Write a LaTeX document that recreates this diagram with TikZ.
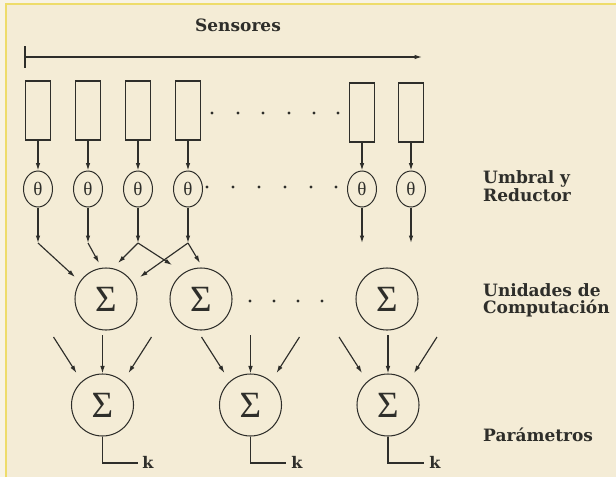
\documentclass[tikz,border=0pt]{standalone}
\usepackage{fontspec}
\setmainfont{DejaVu Serif}
\newfontfamily\symfont{Liberation Serif}
\usetikzlibrary{arrows.meta,shapes.geometric}
\definecolor{bg}{HTML}{F4ECD6}
\definecolor{pale}{HTML}{F8F3E4}
\definecolor{frameyel}{HTML}{EEDC6A}
\definecolor{ink}{HTML}{2E2E2A}
\begin{document}
\begin{tikzpicture}[x=1pt,y=-1pt,
  ln/.style={draw=ink,line width=1.15pt},
  arr/.style={ln,-{Latex[length=7.5pt,width=4.6pt]}},
  sensorbox/.style={draw=ink,line width=1.15pt,minimum width=25pt,minimum height=59pt,inner sep=0pt},
  thetanode/.style={ellipse,draw=ink,line width=1pt,minimum width=29pt,minimum height=36pt,inner sep=0pt,font=\symfont\fontsize{19}{19}\selectfont,text=ink},
  sumnode/.style={circle,draw=ink,line width=1.05pt,minimum size=62pt,inner sep=0pt,font=\symfont\fontsize{37}{37}\selectfont,text=ink},
  lbl/.style={font=\bfseries\fontsize{17}{18}\selectfont,text=ink,anchor=base west,inner sep=0pt},
  klbl/.style={font=\bfseries\fontsize{16}{16}\selectfont,text=ink,inner sep=0pt},
  dotn/.style={circle,fill=ink,inner sep=0pt,minimum size=3.2pt}
]
\useasboundingbox (0,0) rectangle (616,477);
\fill[pale] (0,0) rectangle (616,477);
\fill[bg] (6,4) rectangle (616,477);
\draw[frameyel,line width=1.6pt] (6,477) -- (6,4) -- (616,4);

% title and sensor arrow
\node[font=\bfseries\fontsize{17}{18}\selectfont,text=ink,anchor=base,inner sep=0pt] (title) at (238,31) {Sensores};
\coordinate (tickt) at (25,46);
\coordinate (tickb) at (25,68);
\coordinate (sl) at (25,57);
\coordinate (sr) at (422,57);
\draw[ln] (tickt) -- (tickb);
\draw[arr] (sl) -- (sr);

% sensors and threshold units
\foreach \x/\dy [count=\i] in {38/0,88/0,138/0,188/0,362/2,411/2}{
  \node[sensorbox] (s\i) at (\x,110.5+\dy) {};
  \node[thetanode] (t\i) at (\x,189) {θ};
  \coordinate (j\i) at (\x,243);
  \draw[arr] (s\i.south) -- (t\i.north);
  \draw[arr] (t\i.south) -- (j\i);
}
\foreach \x [count=\i] in {212,238,263,289,314,338}{
  \node[dotn] (sd\i) at (\x,113) {};
}
\foreach \x [count=\i] in {207,233,259,285,311,336}{
  \node[dotn] (td\i) at (\x,187) {};
}

% computation units
\node[sumnode] (u1) at (106,299) {Σ};
\node[sumnode] (u2) at (201,299) {Σ};
\node[sumnode] (u3) at (387,299) {Σ};
\foreach \x [count=\i] in {250,274,298,322}{
  \node[dotn] (ud\i) at (\x,301) {};
}
\coordinate (a1) at (75,277);
\coordinate (a2) at (99,263);
\coordinate (a3) at (118,263);
\coordinate (b3) at (172,265);
\coordinate (a4) at (140,277);
\coordinate (b4) at (200,263);
\draw[arr] (j1) -- (a1);
\draw[arr] (j2) -- (a2);
\draw[arr] (j3) -- (a3);
\draw[arr] (j3) -- (b3);
\draw[arr] (j4) -- (a4);
\draw[arr] (j4) -- (b4);

% parameters
\foreach \x/\ke/\kx [count=\i] in {102.5/137.5/148,250.5/286/297,388/424/435}{
  \node[sumnode] (l\i) at (\x,405) {Σ};
  \coordinate (pl\i) at (\x-49,337);
  \coordinate (ql\i) at (\x-26,373);
  \coordinate (pm\i) at (\x,335);
  \coordinate (pr\i) at (\x+49,337);
  \coordinate (qr\i) at (\x+26,373);
  \draw[arr] (pl\i) -- (ql\i);
  \draw[arr] (pm\i) -- (l\i.north);
  \draw[arr] (pr\i) -- (qr\i);
  \coordinate (kc\i) at (\x,463);
  \coordinate (ke\i) at (\ke,463);
  \draw[ln] (l\i.south) -- (kc\i) -- (ke\i);
  \node[klbl,anchor=base] (k\i) at (\kx,468) {k};
}

% right labels
\node[lbl] (lab1) at (483,183) {Umbral y};
\node[lbl] (lab2) at (483,201) {Reductor};
\node[lbl] (lab3) at (483,296) {Unidades de};
\node[lbl] (lab4) at (483,313) {Computación};
\node[lbl] (lab5) at (483,441) {Parámetros};
\end{tikzpicture}
\end{document}
